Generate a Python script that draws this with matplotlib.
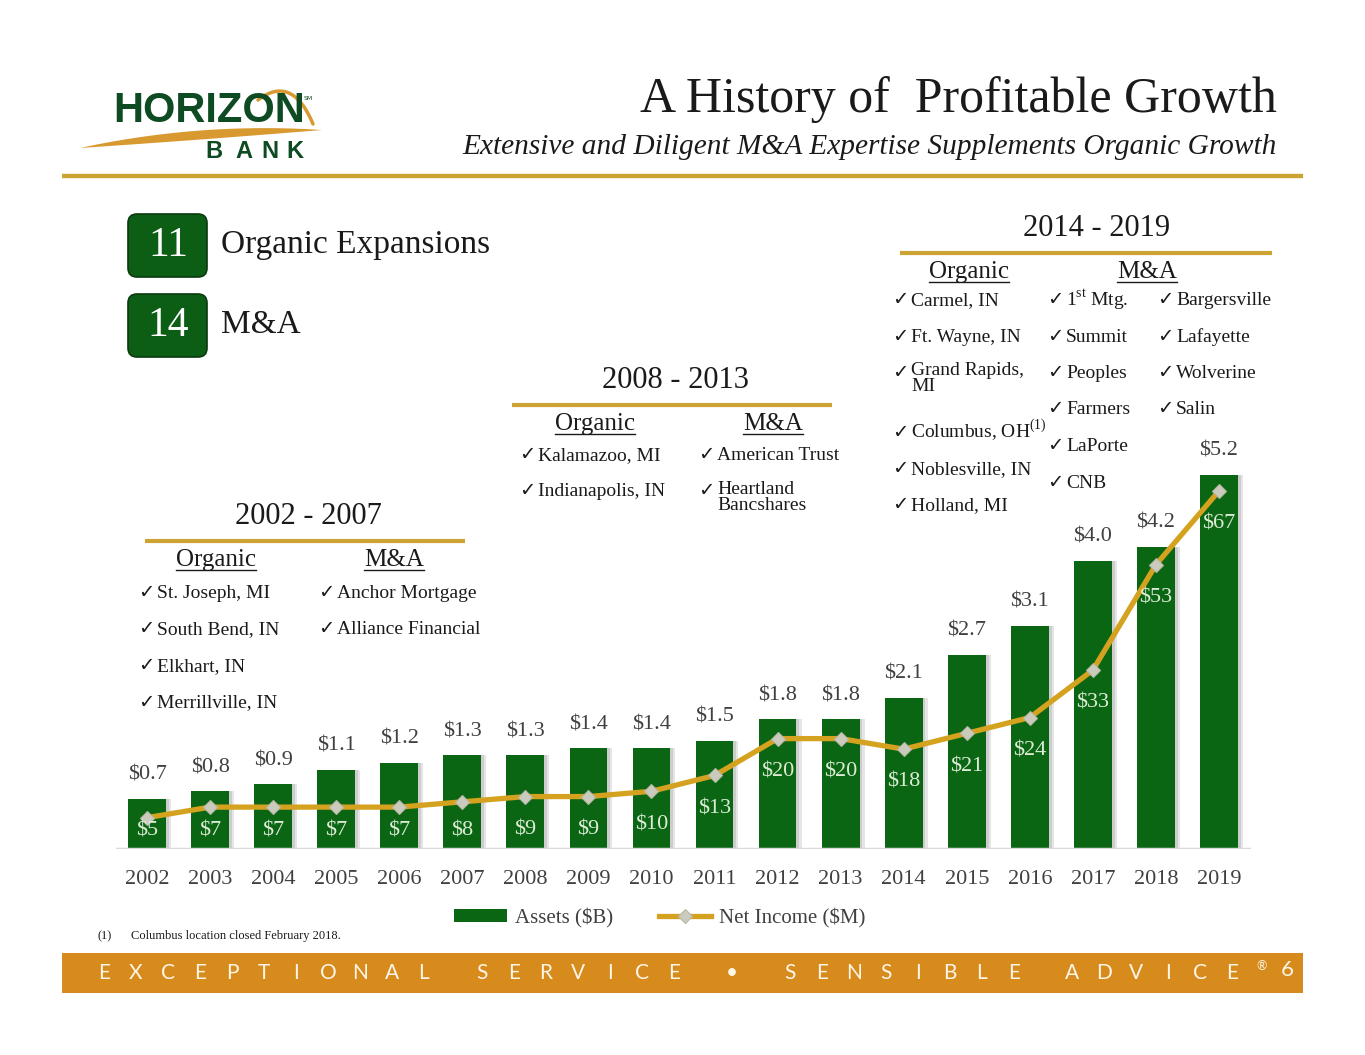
import numpy as np
import matplotlib
matplotlib.use("Agg")
import matplotlib.pyplot as plt
from matplotlib.patches import FancyBboxPatch, Rectangle, Polygon
from matplotlib import font_manager

# Data
years = ['2002', '2003', '2004', '2005', '2006', '2007', '2008', '2009', '2010',
         '2011', '2012', '2013', '2014', '2015', '2016', '2017', '2018', '2019']
assets = [0.7, 0.8, 0.9, 1.1, 1.2, 1.3, 1.3, 1.4, 1.4,
          1.5, 1.8, 1.8, 2.1, 2.7, 3.1, 4.0, 4.2, 5.2]
net_income = [5, 7, 7, 7, 7, 8, 9, 9, 10,
              13, 20, 20, 18, 21, 24, 33, 53, 67]

organic_02 = ['St. Joseph, MI', 'South Bend, IN', 'Elkhart, IN', 'Merrillville, IN']
ma_02 = ['Anchor Mortgage', 'Alliance Financial']
organic_08 = ['Kalamazoo, MI', 'Indianapolis, IN']
ma_08 = ['American Trust', 'Heartland\nBancshares']
organic_14 = ['Carmel, IN', 'Ft. Wayne, IN', 'Grand Rapids,\nMI', 'Columbus, OH$^{\\mathrm{(1)}}$',
              'Noblesville, IN', 'Holland, MI']
ma_14a = ['1$^{\\mathrm{st}}$ Mtg.', 'Summit', 'Peoples', 'Farmers', 'LaPorte', 'CNB']
ma_14b = ['Bargersville', 'Lafayette', 'Wolverine', 'Salin']

# Colors
GREEN = '#0B6613'
GOLD = '#D4A21F'
LINEGOLD = '#CDA434'
ORANGE = '#D78B1D'
GRAY = '#404040'
SERIF = 'Liberation Serif'

plt.rcParams['mathtext.fontset'] = 'custom'
plt.rcParams['mathtext.rm'] = SERIF
plt.rcParams['font.family'] = [SERIF, 'DejaVu Sans']

names = {f.name for f in font_manager.fontManager.ttflist}
has_narrow = 'Liberation Sans Narrow' in names

W, H = 1365, 1055
fig = plt.figure(figsize=(W / 100, H / 100), dpi=100)

# overlay in pixel coordinates
ov = fig.add_axes([0, 0, 1, 1])
ov.set_xlim(0, W)
ov.set_ylim(H, 0)
ov.axis('off')

# logo
if has_narrow:
    ov.text(113, 111, 'HORIZON', family='Liberation Sans Narrow', weight='bold',
            fontsize=36, color='#0E4B22', va='center', ha='left')
else:
    ov.text(113, 111, 'HORIZON', family='Liberation Sans', weight='bold',
            fontsize=30, color='#0E4B22', va='center', ha='left')
ov.text(304, 99, 'SM', fontsize=4.5, family='DejaVu Sans', color='#0E4B22', va='center')
for ch, bx in zip('BANK', [214, 244, 270, 295]):
    ov.text(bx, 151, ch, family='Liberation Sans', weight='bold', fontsize=17,
            color='#0E4B22', ha='center', va='center')
t = np.linspace(0, 1, 60)
def bez(p0, p1, p2):
    return [(1 - s) ** 2 * p0[0] + 2 * (1 - s) * s * p1[0] + s ** 2 * p2[0] for s in t], \
           [(1 - s) ** 2 * p0[1] + 2 * (1 - s) * s * p1[1] + s ** 2 * p2[1] for s in t]
ux, uy = bez((80, 148), (200, 122), (322, 130))
lx, ly = bez((80, 148), (200, 140), (322, 130))
ov.add_patch(Polygon(list(zip(ux, uy)) + list(zip(lx[::-1], ly[::-1])), closed=True,
                     color='#D89A30', lw=0))
ax_, ay_ = bez((258, 100), (292, 74), (313, 124))
ov.plot(ax_, ay_, color='#D89A30', lw=2.5, solid_capstyle='round')

# title
ov.text(1277, 100, 'A History of  Profitable Growth', fontsize=36, ha='right', va='center',
        color='#1A1A1A')
ov.text(1277, 147, 'Extensive and Diligent M&A Expertise Supplements Organic Growth',
        fontsize=21.2, style='italic', ha='right', va='center', color='#1A1A1A')
ov.plot([62, 1303], [176, 176], color=LINEGOLD, lw=3.2, solid_capstyle='butt')

# counters
for by, num, lab in [(214, '11', 'Organic Expansions'), (294, '14', 'M&A')]:
    ov.add_patch(FancyBboxPatch((128, by), 79, 63, boxstyle='round,pad=0,rounding_size=9',
                                fc='#0B5E14', ec='#0A3A0E', lw=1.2))
    ov.text(168, by + 32, num, fontsize=30, color='white', ha='center', va='center')
    ov.text(221, by + 31, lab, fontsize=24, color='#1A1A1A', ha='left', va='center')

headers = []
def section(cx, ty, x0, x1, title, hx):
    ov.text(cx, ty, title, fontsize=22, ha='center', va='center', color='#1A1A1A')
    ov.plot([x0, x1], [ty + 25, ty + 25], color=LINEGOLD, lw=3, solid_capstyle='butt')
    for hxx, htxt in zip(hx, ['Organic', 'M&A']):
        headers.append(ov.text(hxx, ty + 44, htxt, fontsize=18, ha='center', va='center',
                               color='#1A1A1A'))

def items(x, y0, labels, step=36.5):
    y = y0
    for lab in labels:
        ov.text(x, y + 6, '\u2713', family='DejaVu Sans', fontsize=14, ha='left',
                va='baseline', color='#1A1A1A')
        if '\n' in lab:
            ov.text(x + 19, y - 10, lab, fontsize=14, ha='left', va='top', color='#1A1A1A',
                    linespacing=0.95)
        else:
            ov.text(x + 19, y + 6, lab, fontsize=14, ha='left', va='baseline',
                    color='#1A1A1A')
        y += step + (23 if '\n' in lab else 0)

section(308, 516, 145, 465, '2002 - 2007', [216, 394])
items(138, 592, organic_02)
items(318, 592, ma_02)
section(676, 380, 512, 832, '2008 - 2013', [595, 773])
items(519, 454, organic_08)
items(698, 454, ma_08)
section(1097, 228, 900, 1272, '2014 - 2019', [969, 1147])
items(892, 299, organic_14)
items(1047, 299, ma_14a)
items(1157, 299, ma_14b)

# chart
baseline, top = 849, 449
ax = fig.add_axes([115.5 / W, (H - baseline) / H, 1135 / W, (baseline - top) / H])
ax.patch.set_alpha(0)
x = np.arange(len(years))
ax.bar(x + 0.07, assets, width=0.62, color='#000000', alpha=0.10, zorder=1)
ax.bar(x + 0.035, assets, width=0.62, color='#000000', alpha=0.10, zorder=1)
ax.bar(x, assets, width=0.6, color=GREEN, zorder=2, label='Assets ($B)')
ax.set_xlim(-0.5, len(years) - 0.5)
ax.set_ylim(0, (baseline - top) / 72)
ax.axhline(0, color='#D9D9D9', lw=2.5, zorder=3)
for s in ax.spines.values():
    s.set_visible(False)
ax.set_yticks([])
ax.set_xticks(x)
ax.set_xticklabels(years, fontsize=16, color=GRAY)
ax.tick_params(axis='x', length=0, pad=15)
for xi, v in zip(x, assets):
    ax.annotate(f'${v:.1f}', (xi, v), xytext=(0, 17), textcoords='offset points',
                ha='center', va='center', fontsize=16, color=GRAY)

ax2 = ax.twinx()
ax2.set_ylim(-5 / 5.27, (844 - top) / 5.27)
ax2.plot(x, net_income, color=GOLD, lw=3.8, marker='D', markersize=7,
         markerfacecolor='#CBCBBD', markeredgecolor='#B8B8A8', markeredgewidth=0.8,
         zorder=4, label='Net Income ($M)')
ax2.axis('off')
for xi, v in zip(x, net_income):
    ax2.text(xi, max(v - 6.3, 2.4), f'${v}', ha='center', va='center', fontsize=16,
             color='#DDEBD6', zorder=5)

h1, l1 = ax.get_legend_handles_labels()
h2, l2 = ax2.get_legend_handles_labels()
fig.legend(h1 + h2, l1 + l2, loc='center', bbox_to_anchor=(660 / W, (H - 918) / H),
           ncol=2, frameon=False, fontsize=15, handlelength=2.5, handleheight=0.55,
           columnspacing=2.2, handletextpad=0.4, labelcolor=GRAY)

# footnote
ov.text(97, 936, '(1)', fontsize=9, ha='left', va='center', color='#1A1A1A')
ov.text(131, 936, 'Columbus location closed February 2018.', fontsize=9, ha='left',
        va='center', color='#1A1A1A')

# footer band
ov.add_patch(Rectangle((62, 953), 1241, 40, color=ORANGE, lw=0))
foot_family = ['Lato', 'DejaVu Sans']
px = 104
for ch in 'EXCEPTIONAL SERVICE \u2022 SENSIBLE ADVICE':
    if ch == ' ':
        px += 26
        continue
    ov.text(px, 973, ch, family=foot_family, weight='normal', fontsize=15,
            color='#FFF6E8', ha='center', va='center')
    px += 32
ov.text(1262, 966, '\u00ae', family=foot_family, fontsize=9, color='#FFF6E8', ha='center',
        va='center')
ov.text(1287, 970, '6', family=foot_family, fontsize=16, color='#FFF6E8', ha='center',
        va='center')

# underline section headers
fig.canvas.draw()
inv = ov.transData.inverted()
for htxt in headers:
    bb = htxt.get_window_extent()
    (a0, b0), (a1, b1) = inv.transform([(bb.x0, bb.y0), (bb.x1, bb.y1)])
    ov.plot([a0, a1], [b0 - 1, b0 - 1], color='#1A1A1A', lw=1)

fig.savefig('out.png', dpi=100)
